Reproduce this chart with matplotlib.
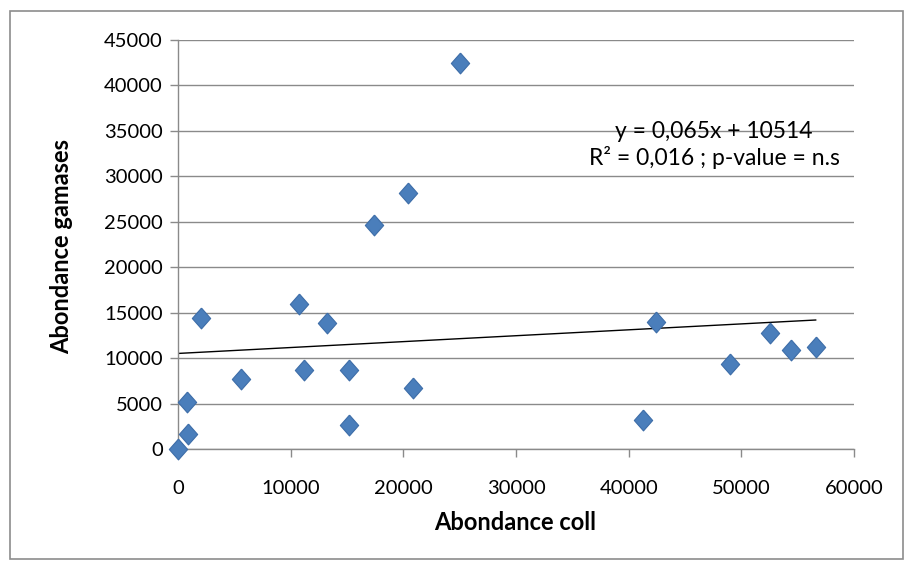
import matplotlib
matplotlib.use("Agg")
import matplotlib.pyplot as plt
from matplotlib.patches import Rectangle
import numpy as np

# Data
abond_coll = [0, 900, 800, 2000, 5600, 10700, 11200, 13200, 15200, 15200,
              20900, 17400, 20400, 25000, 41300, 42400, 49000, 52500, 54400, 56600]
abond_gamases = [0, 1650, 5200, 14400, 7700, 15950, 8700, 13850, 8700, 2650,
                 6700, 24600, 28150, 42450, 3200, 13950, 9300, 12750, 10900, 11200]
slope = 0.065
intercept = 10514
x_ticks = [0, 10000, 20000, 30000, 40000, 50000, 60000]
y_ticks = [0, 5000, 10000, 15000, 20000, 25000, 30000, 35000, 40000, 45000]

plt.rcParams['font.family'] = ['Lato', 'DejaVu Sans']

fig = plt.figure(figsize=(9.08, 5.67), dpi=100)
fig.patch.set_facecolor('white')
# chart area border
fig.patches.append(Rectangle((10/908, 8/567), 893/908, 548/567, transform=fig.transFigure,
                             fill=False, edgecolor='#8c8c8c', linewidth=1.2))

ax = fig.add_axes([178/908, 1-449/567, (854-178)/908, (449-40)/567])
ax.set_xlim(x_ticks[0], x_ticks[-1])
ax.set_ylim(y_ticks[0], y_ticks[-1])
ax.set_xticks(x_ticks)
ax.set_yticks(y_ticks)
ax.set_xticklabels([str(v) for v in x_ticks])
ax.set_yticklabels([str(v) for v in y_ticks])

ax.grid(axis='y', color='#8a8a8a', linewidth=1.0)
ax.set_axisbelow(True)
for s in ['top', 'right']:
    ax.spines[s].set_visible(False)
for s in ['left', 'bottom']:
    ax.spines[s].set_color('#8a8a8a')
    ax.spines[s].set_linewidth(1.0)
ax.tick_params(axis='both', colors='#8a8a8a', labelcolor='black', labelsize=14.5,
               length=6, width=1.0, direction='out')
ax.tick_params(axis='x', pad=16)
ax.tick_params(axis='y', pad=5)

# trendline
xs = np.array([min(abond_coll), max(abond_coll)])
ax.plot(xs, slope * xs + intercept, color='black', linewidth=1.0, zorder=2)

diamond = [(0, 1), (0.88, 0), (0, -1), (-0.88, 0), (0, 1)]
ax.plot(abond_coll, abond_gamases, linestyle='none', marker=diamond, markersize=15,
        markerfacecolor='#4A7EBB', markeredgecolor='#3D6DA8', markeredgewidth=0.8,
        zorder=3, clip_on=False)

ax.text(714/908, 1-145/567, "y = 0,065x + 10514\nR² = 0,016 ; p-value = n.s",
        transform=fig.transFigure, ha='center', va='center', fontsize=16.5,
        linespacing=1.25)

fig.text(515/908, 1-522/567, "Abondance coll", ha='center', va='center',
         fontsize=17, fontweight='bold')
fig.text(62/908, 1-247/567, "Abondance gamases", ha='center', va='center',
         fontsize=17, fontweight='bold', rotation=90)

fig.savefig('out.png', dpi=100, facecolor='white')
